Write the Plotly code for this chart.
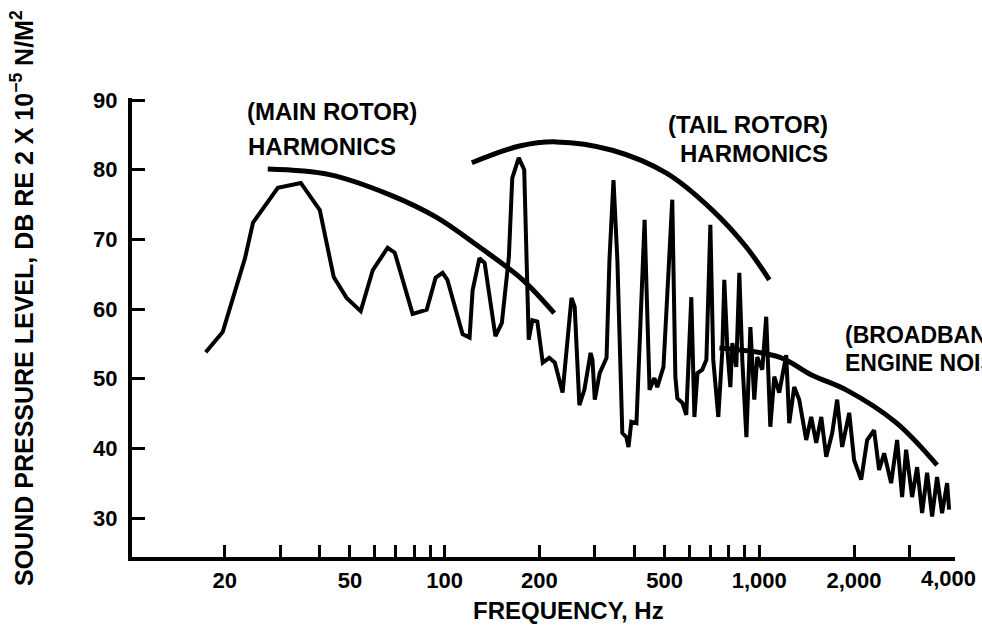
import plotly.graph_objects as go
import math

# ---------------- data ----------------
spectrum_freq = [17.4, 19.7, 23.2, 24.6, 29.5, 34.9, 40.1, 44.4, 48.8, 54.1, 59.1, 65.9, 69.4, 79.1,
                 87.7, 93.6, 98.5, 102, 114, 120, 122.7, 129, 134, 145, 152, 160, 164, 172, 179, 183,
                 185, 190, 197, 205, 215, 224, 237, 253, 259, 268, 278, 291, 295, 300, 311, 327, 334,
                 344, 354, 367, 378, 384, 392, 407, 422, 432, 438, 448, 464, 474, 496, 518, 529, 541,
                 549, 570, 586, 608, 622, 636, 659, 679, 699, 714, 741, 763, 774, 792, 809, 821, 845,
                 864, 883, 910, 937, 964, 985, 1022, 1052, 1084, 1116, 1157, 1218, 1245, 1291, 1339,
                 1410, 1462, 1517, 1574, 1632, 1705, 1768, 1834, 1931, 2002, 2108, 2202, 2317, 2403,
                 2494, 2624, 2742, 2844, 2928, 3060, 3174, 3292, 3415, 3542, 3673, 3810, 3953, 4011]
spectrum_db = [53.8, 56.7, 67.3, 72.4, 77.4, 78.1, 74.2, 64.6, 61.6, 59.7, 65.6, 68.8, 68.1, 59.3,
               59.9, 64.5, 65.2, 64.2, 56.4, 55.9, 62.7, 67.3, 66.6, 56.1, 58.0, 67.5, 78.8, 81.7, 80.0, 60.9,
               55.6, 58.4, 58.2, 52.3, 53.0, 52.3, 48.0, 61.6, 60.3, 46.2, 48.4, 53.7, 52.7, 47.0, 50.8, 53.0, 67.0,
               78.5, 67.0, 42.2, 41.6, 40.2, 43.8, 43.6, 63.2, 72.8, 63.2, 48.4, 50.1, 48.8, 51.7, 69.5, 75.7, 50.3,
               47.2, 46.5, 44.8, 61.7, 44.5, 50.8, 51.3, 52.7, 72.1, 52.7, 44.5, 54.1, 64.2, 54.1, 48.8, 55.1, 51.7,
               65.2, 52.7, 41.6, 57.4, 47.0, 53.1, 51.3, 58.9, 43.1, 50.3, 48.0, 53.4, 43.6, 48.8, 47.0,
               41.2, 44.5, 40.8, 44.5, 38.8, 42.2, 47.0, 40.2, 45.1, 38.3, 35.5, 41.2, 42.6, 36.9,
               39.3, 35.0, 41.2, 33.0, 39.8, 33.0, 37.3, 30.7, 36.5, 30.2, 35.9, 30.7, 35.0, 31.2]

main_env_freq = [27.4, 43, 67, 94, 129, 177, 223]
main_env_db = [80.1, 79.3, 76.4, 73.2, 68.9, 64.2, 59.4]

tail_env_freq = [122, 173, 226, 341, 507, 709, 909, 1076]
tail_env_db = [81.0, 83.4, 84.0, 82.8, 79.5, 74.2, 68.9, 64.2]

broad_env_freq = [747, 1157, 1472, 1888, 2722, 3673]
broad_env_db = [54.4, 53.1, 50.5, 48.4, 43.7, 37.6]

x_label_vals = [20, 50, 100, 200, 500, 1000, 2000]
x_label_text = ["20", "50", "100", "200", "500", "1,000", "2,000"]
x_minor_vals = [30, 40, 60, 70, 80, 90, 300, 400, 600, 700, 800, 900, 3000]
x_last_label_val = 4000
x_last_label = "4,000"
y_tick_vals = [30, 40, 50, 60, 70, 80, 90]

# ---------------- layout geometry ----------------
W, H = 982, 631
PL, PR, PT, PB = 132, 955, 98, 557


def px(xp):
    return (xp - PL) / (PR - PL)


def py(yp):
    return (PB - yp) / (PB - PT)


FONT = "Liberation Sans, Arial, Helvetica, sans-serif"

fig = go.Figure()
fig.add_trace(go.Scatter(x=spectrum_freq, y=spectrum_db, mode="lines",
                         line=dict(color="black", width=4), hoverinfo="skip"))
for fx, fy in [(main_env_freq, main_env_db), (tail_env_freq, tail_env_db),
               (broad_env_freq, broad_env_db)]:
    fig.add_trace(go.Scatter(x=fx, y=fy, mode="lines",
                             line=dict(color="black", width=5, shape="spline", smoothing=1.0),
                             hoverinfo="skip"))

annots = [
    ("(MAIN ROTOR)", 245, 112, 24),
    ("HARMONICS", 246, 146, 24),
    ("(TAIL ROTOR)", 666, 124, 24),
    ("HARMONICS", 678, 153, 24),
    ("(BROADBAND", 843, 335, 23),
    ("ENGINE NOISE)", 843, 363, 23),
]
annotations = []
for txt, ax, ay, fs in annots:
    annotations.append(dict(text=txt, xref="paper", yref="paper", x=px(ax), y=py(ay),
                            xanchor="left", yanchor="middle", showarrow=False,
                            font=dict(family=FONT, size=fs, color="black", weight="bold")))

# last x label (no tick mark)
annotations.append(dict(text=x_last_label, xref="x", yref="paper", x=math.log10(x_last_label_val),
                        y=py(578), xanchor="center", yanchor="middle", showarrow=False,
                        font=dict(family=FONT, size=22, color="black", weight="bold")))
# axis titles
annotations.append(dict(text="FREQUENCY, Hz", xref="paper", yref="paper", x=px(568), y=py(610),
                        xanchor="center", yanchor="middle", showarrow=False,
                        font=dict(family=FONT, size=24, color="black", weight="bold")))
annotations.append(dict(text="SOUND PRESSURE LEVEL, DB RE 2 X 10<sup>−5</sup> N/M<sup>2</sup>",
                        xref="paper", yref="paper", x=px(22), y=py(298), textangle=-90,
                        xanchor="center", yanchor="middle", showarrow=False,
                        font=dict(family=FONT, size=25, color="black", weight="bold")))

fig.update_layout(
    width=W, height=H,
    margin=dict(l=PL, r=W - PR, t=PT, b=H - PB, pad=0, autoexpand=False),
    paper_bgcolor="white", plot_bgcolor="white",
    showlegend=False,
    annotations=annotations,
    xaxis=dict(type="log", range=[1.0063, 3.622], tickmode="array",
               tickvals=x_label_vals, ticktext=x_label_text, tickangle=0, automargin=False,
               ticks="inside", ticklen=12, tickwidth=3, tickcolor="black",
               minor=dict(tickmode="array", tickvals=x_minor_vals, ticks="inside", ticklen=12,
                          tickwidth=3, tickcolor="black", showgrid=False),
               showline=True, linecolor="black", linewidth=4, showgrid=False, zeroline=False,
               ticklabelstandoff=1,
               tickfont=dict(family=FONT, size=22, color="black", weight="bold")),
    yaxis=dict(range=[24.4, 90.3], tickmode="array", tickvals=y_tick_vals, automargin=False,
               ticks="inside", ticklen=13, tickwidth=3, tickcolor="black",
               showline=True, linecolor="black", linewidth=4, showgrid=False, zeroline=False,
               ticklabelstandoff=6,
               tickfont=dict(family=FONT, size=22, color="black", weight="bold")),
)

fig.write_html("out.html", config={"displayModeBar": False, "staticPlot": True},
               post_script="document.body.style.margin='0';document.body.style.padding='0';")
